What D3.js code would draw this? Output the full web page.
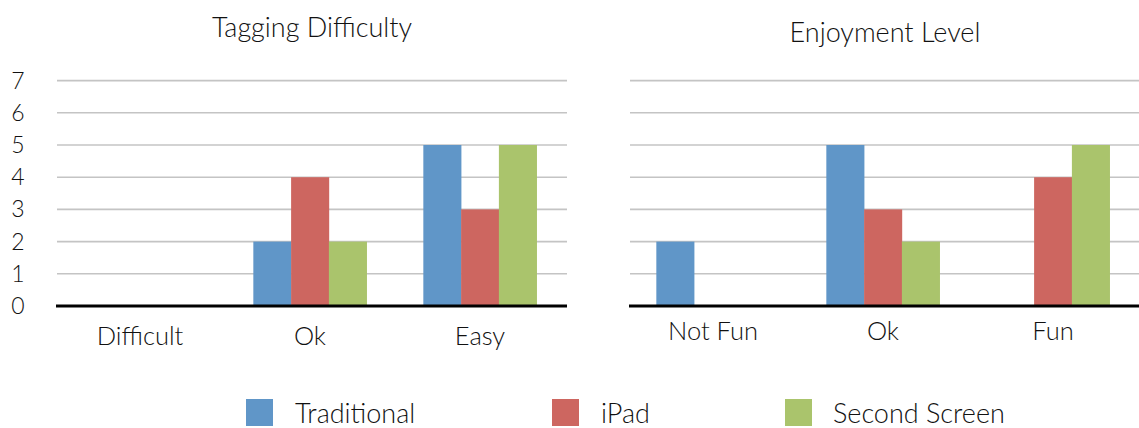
<!DOCTYPE html>
<html>
<head>
<meta charset="utf-8">
<script src="https://cdn.jsdelivr.net/npm/d3@7"></script>
<style>
  body { margin: 0; background: #fff; }
  svg text { font-family: "Lato", "Open Sans", sans-serif; font-weight: 300; fill: #111; }
</style>
</head>
<body>
<div id="chart"></div>
<script>
// data
const seriesNames = ["Traditional", "iPad", "Second Screen"];
const seriesColors = ["#6096c8", "#cd6660", "#aac46c"];

const difficultyCats = ["Difficult", "Ok", "Easy"];
const difficultyTraditional = [0, 2, 5];
const difficultyIpad = [0, 4, 3];
const difficultySecond = [0, 2, 5];

const enjoymentCats = ["Not Fun", "Ok", "Fun"];
const enjoymentTraditional = [2, 5, 0];
const enjoymentIpad = [0, 3, 4];
const enjoymentSecond = [0, 2, 5];

const yTicks = [0, 1, 2, 3, 4, 5, 6, 7];

const W = 1139, H = 428;
const svg = d3.select("#chart").append("svg")
    .attr("width", W)
    .attr("height", H);

const yScale = d3.scaleLinear()
    .domain([0, 7])
    .range([306, 80.6]);

function drawPanel(opts) {
    const g = svg.append("g");
    // bands are shifted a touch left of the gridlines, like the original
    const x0 = d3.scaleBand()
        .domain(opts.cats)
        .range([opts.left - 2, opts.right - 2]);
    // gap width 150% -> 3 bars + 1.5 bar gap per band
    const x1 = d3.scaleBand()
        .domain(seriesNames)
        .range([0, x0.bandwidth() * 3 / 4.5]);
    const offset = (x0.bandwidth() - x1.range()[1]) / 2;

    // gridlines
    g.selectAll("line.grid")
        .data(yTicks.filter(d => d > 0))
        .enter().append("line")
        .attr("x1", opts.left).attr("x2", opts.right)
        .attr("y1", d => yScale(d)).attr("y2", d => yScale(d))
        .attr("stroke", "#c4c4c4")
        .attr("stroke-width", 1.6);

    // bars
    const rows = opts.cats.map((c, i) => ({
        cat: c,
        vals: opts.series.map((s, j) => ({ name: seriesNames[j], v: s[i], color: seriesColors[j] }))
    }));
    const grp = g.selectAll("g.cat")
        .data(rows)
        .enter().append("g")
        .attr("transform", d => `translate(${x0(d.cat) + offset},0)`);
    grp.selectAll("rect")
        .data(d => d.vals.filter(v => v.v > 0))
        .enter().append("rect")
        .attr("x", d => x1(d.name))
        .attr("width", x1.bandwidth() + 0.3)
        .attr("y", d => yScale(d.v))
        .attr("height", d => yScale(0) - yScale(d.v))
        .attr("fill", d => d.color);

    // baseline
    g.append("line")
        .attr("x1", opts.left - 1).attr("x2", opts.right)
        .attr("y1", yScale(0)).attr("y2", yScale(0))
        .attr("stroke", "#000")
        .attr("stroke-width", 3);

    // category labels
    g.selectAll("text.cat")
        .data(opts.cats)
        .enter().append("text")
        .attr("x", d => x0(d) + x0.bandwidth() / 2)
        .attr("y", opts.catY)
        .attr("text-anchor", "middle")
        .style("font-size", "25.5px")
        .text(d => d);

    // title
    g.append("text")
        .attr("x", (opts.left + opts.right) / 2)
        .attr("y", opts.titleY)
        .attr("text-anchor", "middle")
        .style("font-size", "27px")
        .text(opts.title);

    if (opts.yLabels) {
        g.selectAll("text.ytick")
            .data(yTicks)
            .enter().append("text")
            .attr("x", 18)
            .attr("y", d => yScale(d) + 8)
            .attr("text-anchor", "middle")
            .style("font-size", "23px")
            .text(d => d);
    }
}

drawPanel({
    cats: difficultyCats,
    series: [difficultyTraditional, difficultyIpad, difficultySecond],
    left: 57, right: 567,
    title: "Tagging Difficulty", titleY: 37,
    catY: 345, yLabels: true
});

drawPanel({
    cats: enjoymentCats,
    series: [enjoymentTraditional, enjoymentIpad, enjoymentSecond],
    left: 630, right: 1140,
    title: "Enjoyment Level", titleY: 42,
    catY: 340, yLabels: false
});

// legend
const legendX = [246, 552, 785];
const legend = svg.append("g");
legend.selectAll("rect")
    .data(seriesNames)
    .enter().append("rect")
    .attr("x", (d, i) => legendX[i])
    .attr("y", 399)
    .attr("width", 27)
    .attr("height", 27)
    .attr("fill", (d, i) => seriesColors[i]);
legend.selectAll("text")
    .data(seriesNames)
    .enter().append("text")
    .attr("x", (d, i) => legendX[i] + [49, 49, 48][i])
    .attr("y", 423)
    .style("font-size", "27px")
    .text(d => d);
</script>
</body>
</html>
